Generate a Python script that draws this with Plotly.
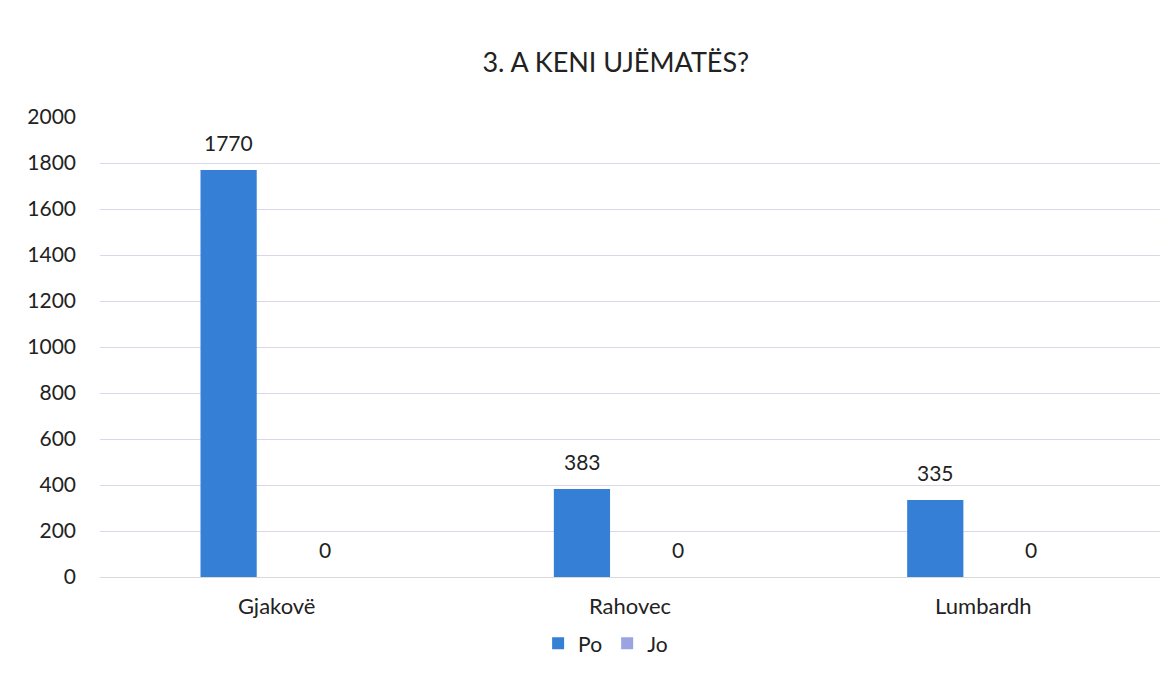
import plotly.graph_objects as go

categories = ["Gjakovë", "Rahovec", "Lumbardh"]
po_values = [1770, 383, 335]
jo_values = [0, 0, 0]
y_ticks = [0, 200, 400, 600, 800, 1000, 1200, 1400, 1600, 1800, 2000]

FONT = "Lato, 'Open Sans', sans-serif"
TXT = "#222222"

fig = go.Figure()
fig.add_trace(go.Bar(
    name="Po", x=categories, y=po_values,
    marker=dict(color="#3580d6", line=dict(width=0)),
))
fig.add_trace(go.Bar(
    name="Jo", x=categories, y=jo_values,
    marker=dict(color="#9aa4e0", line=dict(width=0)),
))

# data labels above bars
for cat, v in zip(categories, po_values):
    fig.add_annotation(x=cat, y=v, xref="x", yref="y", text=str(v), showarrow=False,
                       xshift=-48, yshift=27, font=dict(size=21, color=TXT, family=FONT))
for cat, v in zip(categories, jo_values):
    fig.add_annotation(x=cat, y=v, xref="x", yref="y", text=str(v), showarrow=False,
                       xshift=48, yshift=28, font=dict(size=21, color=TXT, family=FONT))

fig.update_layout(
    width=1173, height=691,
    paper_bgcolor="white", plot_bgcolor="white",
    margin=dict(l=100, r=13, t=117, b=114),
    barmode="group", bargap=0.456, bargroupgap=0.415,
    title=dict(text="3. A KENI UJËMATËS?", x=0.525, xanchor="center",
               y=0.91, yanchor="middle",
               font=dict(size=27, color=TXT, family=FONT)),
    font=dict(family=FONT, color=TXT, size=21),
    showlegend=True,
    legend=dict(orientation="h", x=0.477, xanchor="center", y=-0.145, yanchor="middle",
                font=dict(size=21, color=TXT, family=FONT), traceorder="normal",
                itemwidth=30),
)
fig.update_xaxes(showgrid=False, showline=True, linecolor="#d9d9d9", linewidth=1,
                 tickfont=dict(size=22, color=TXT, family=FONT), ticks="", ticklabelstandoff=10)
fig.update_yaxes(range=[0, 2000], tickvals=y_ticks, showgrid=True,
                 gridcolor="#d8d8ea", gridwidth=1, zeroline=False, showline=False,
                 tickfont=dict(size=21, color=TXT, family=FONT), ticks="", ticklabelstandoff=23)

fig.write_html("out.html")
